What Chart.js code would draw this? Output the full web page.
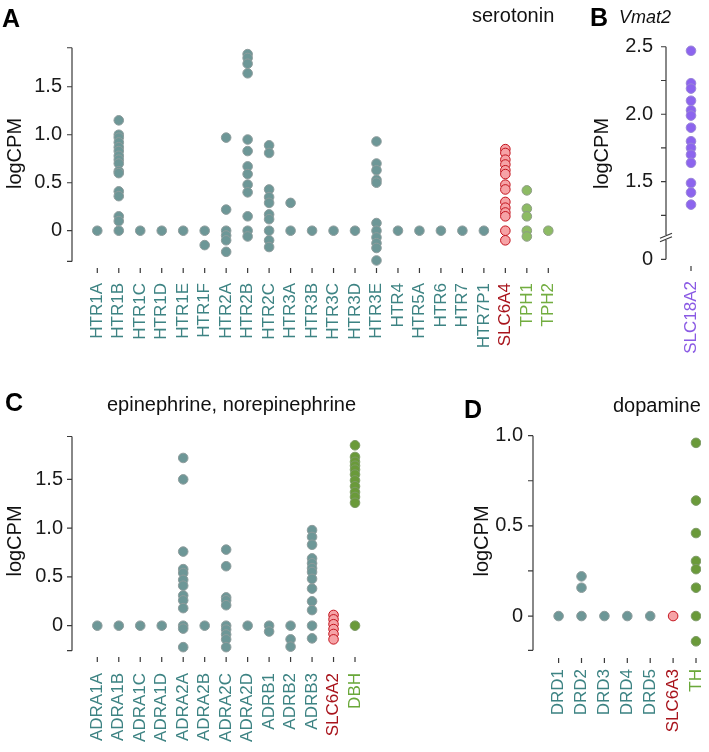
<!DOCTYPE html>
<html>
<head>
<meta charset="utf-8">
<script src="https://cdn.jsdelivr.net/npm/chart.js@4.4.1/dist/chart.umd.min.js"></script>
<style>
  body { margin: 0; background: #fff; font-family: "Liberation Sans", Arial, Helvetica, sans-serif; }
  #fig { position: relative; width: 709px; height: 752px; overflow: hidden; }
  canvas { position: absolute; }
  .lbl { position: absolute; font-weight: bold; font-size: 25px; line-height: 25px; color: #000; }
  .ttl { position: absolute; font-size: 20px; line-height: 20px; color: #111; white-space: nowrap; }
</style>
</head>
<body>
<div id="fig">
  <canvas id="chartA" width="585" height="380" style="left:0;top:0"></canvas>
  <canvas id="chartB" width="119" height="380" style="left:590px;top:0"></canvas>
  <canvas id="chartC" width="460" height="372" style="left:0;top:380px"></canvas>
  <canvas id="chartD" width="239" height="372" style="left:470px;top:380px"></canvas>

  <div class="lbl" style="left:2px;top:6px">A</div>
  <div class="ttl" style="left:472px;top:5px">serotonin</div>
  <div class="lbl" style="left:590px;top:5px">B</div>
  <div class="ttl" style="left:619px;top:8px;font-size:18px;line-height:18px;font-style:italic">Vmat2</div>
  <div class="lbl" style="left:5px;top:390px">C</div>
  <div class="ttl" style="left:107px;top:394px">epinephrine, norepinephrine</div>
  <div class="lbl" style="left:464px;top:397px">D</div>
  <div class="ttl" style="left:613px;top:395px">dopamine</div>
</div>

<script>
// ---- data (logCPM per cell) ----
var serotoninGenes = ['HTR1A', 'HTR1B', 'HTR1C', 'HTR1D', 'HTR1E', 'HTR1F', 'HTR2A', 'HTR2B', 'HTR2C',
    'HTR3A', 'HTR3B', 'HTR3C', 'HTR3D', 'HTR3E', 'HTR4', 'HTR5A', 'HTR6', 'HTR7', 'HTR7P1',
    'SLC6A4', 'TPH1', 'TPH2'];
var serotoninGroups = ['receptor', 'receptor', 'receptor', 'receptor', 'receptor', 'receptor', 'receptor',
    'receptor', 'receptor', 'receptor', 'receptor', 'receptor', 'receptor', 'receptor', 'receptor',
    'receptor', 'receptor', 'receptor', 'receptor', 'transporter', 'synthLight', 'synthLight'];
var serotoninValues = [
    [0],
    [1.15, 1.0, 0.97, 0.92, 0.87, 0.83, 0.78, 0.74, 0.7, 0.62, 0.6, 0.41, 0.36, 0.15, 0.1, 0],
    [0], [0], [0],
    [0, -0.15],
    [0.97, 0.22, 0, -0.05, -0.1, -0.22],
    [1.84, 1.8, 1.74, 1.64, 0.95, 0.83, 0.67, 0.59, 0.48, 0.4, 0.15, 0, -0.06],
    [0.89, 0.81, 0.43, 0.35, 0.29, 0.17, 0.12, 0, -0.1, -0.17],
    [0.29, 0],
    [0], [0], [0],
    [0.93, 0.7, 0.63, 0.53, 0.5, 0.08, 0, -0.07, -0.13, -0.18, -0.31],
    [0], [0], [0], [0], [0],
    [0.85, 0.81, 0.74, 0.69, 0.63, 0.59, 0.48, 0.43, 0.3, 0.24, 0.19, 0.15, 0, -0.1],
    [0.42, 0.23, 0.15, 0, -0.06],
    [0]
];
var serotoninTicks = [0, 0.5, 1.0, 1.5];
var serotoninTickLabels = ['0', '0.5', '1.0', '1.5'];

var vmatGenes = ['SLC18A2'];
var vmatGroups = ['vmat'];
var vmatValues = [
    [2.47, 2.23, 2.19, 2.1, 2.03, 1.99, 1.9, 1.8, 1.75, 1.7, 1.64, 1.49, 1.42, 1.33]
];
var vmatTicks = [0, 1.5, 2.0, 2.5];
var vmatTickLabels = ['0', '1.5', '2.0', '2.5'];
var vmatMinorTicks = [1.25, 1.75, 2.25];

var adrenGenes = ['ADRA1A', 'ADRA1B', 'ADRA1C', 'ADRA1D', 'ADRA2A', 'ADRA2B', 'ADRA2C', 'ADRA2D',
    'ADRB1', 'ADRB2', 'ADRB3', 'SLC6A2', 'DBH'];
var adrenGroups = ['receptor', 'receptor', 'receptor', 'receptor', 'receptor', 'receptor', 'receptor',
    'receptor', 'receptor', 'receptor', 'receptor', 'transporter', 'synthDark'];
var adrenValues = [
    [0], [0], [0], [0],
    [1.72, 1.5, 0.76, 0.58, 0.54, 0.47, 0.41, 0.31, 0.26, 0.18, 0, -0.03, -0.22],
    [0],
    [0.78, 0.61, 0.29, 0.26, 0.21, 0, -0.04, -0.09, -0.14, -0.22],
    [0],
    [0, -0.06],
    [0, -0.14, -0.215],
    [0.98, 0.91, 0.83, 0.69, 0.64, 0.59, 0.55, 0.48, 0.38, 0.25, 0.16, 0, -0.13],
    [0.11, 0.065, 0.015, -0.035, -0.085, -0.14],
    [1.85, 1.73, 1.68, 1.64, 1.6, 1.55, 1.49, 1.43, 1.37, 1.32, 1.26, 0]
];
var adrenTicks = [0, 0.5, 1.0, 1.5];
var adrenTickLabels = ['0', '0.5', '1.0', '1.5'];

var dopaGenes = ['DRD1', 'DRD2', 'DRD3', 'DRD4', 'DRD5', 'SLC6A3', 'TH'];
var dopaGroups = ['receptor', 'receptor', 'receptor', 'receptor', 'receptor', 'transporter', 'synthDark'];
var dopaValues = [
    [0],
    [0.22, 0.157, 0],
    [0], [0], [0],
    [0],
    [0.96, 0.64, 0.46, 0.305, 0.26, 0.157, 0, -0.14]
];
var dopaTicks = [0, 0.5, 1.0];
var dopaTickLabels = ['0', '0.5', '1.0'];
var dopaMinorTicks = [0.25, 0.75];

// ---- styling ----
var AXIS_COLOR = '#3a3a3a';
Chart.defaults.font.family = '"Liberation Sans", Arial, Helvetica, sans-serif';
Chart.defaults.color = '#1a1a1a';

var groupStyle = {
    receptor:    {fill: '#6d9797', border: '#8e9c9c', label: '#3d8383'},
    transporter: {fill: '#f6a3a6', border: '#c3141e', label: '#a8141c'},
    synthLight:  {fill: '#8dbb64', border: '#8e9d86', label: '#72ad40'},
    synthDark:   {fill: '#6a9a3a', border: '#7d9a66', label: '#6aa83a'},
    vmat:        {fill: '#8c64ee', border: '#9a86d6', label: '#8a5ae4'}
};

// y axis line with caps (and a break for panel B), plus the tick dashes on both axes
var axisLine = {
    id: 'axisLine',
    beforeDatasetsDraw: function (chart, args, opts) {
        var y = chart.scales.y, x = chart.scales.x, x0 = y.right, ctx = chart.ctx;
        ctx.save();
        ctx.strokeStyle = AXIS_COLOR;
        ctx.lineWidth = 1.2;
        ctx.beginPath();
        opts.segments.forEach(function (s) {
            ctx.moveTo(x0, y.getPixelForValue(s[0]));
            ctx.lineTo(x0, y.getPixelForValue(s[1]));
        });
        opts.caps.concat(y.ticks.map(function (t) { return t.value; })).forEach(function (v) {
            var p = y.getPixelForValue(v);
            ctx.moveTo(x0 - 5, p);
            ctx.lineTo(x0, p);
        });
        if (opts.breakAt) {
            var mid = (y.getPixelForValue(opts.breakAt[0]) + y.getPixelForValue(opts.breakAt[1])) / 2;
            [-1.7, 1.7].forEach(function (d) {
                ctx.moveTo(x0 - 6, mid + d + 2.5);
                ctx.lineTo(x0 + 6, mid + d - 2.5);
            });
        }
        x.ticks.forEach(function (t) {
            var px = x.getPixelForValue(t.value);
            ctx.moveTo(px, x.top + opts.xTickGap);
            ctx.lineTo(px, x.top + opts.xTickGap + 5);
        });
        ctx.stroke();
        ctx.restore();
    }
};

function buildDatasets(groups, values) {
    var order = [];
    groups.forEach(function (g) { if (order.indexOf(g) < 0) order.push(g); });
    return order.map(function (g) {
        var pts = [];
        values.forEach(function (vals, i) {
            if (groups[i] !== g) return;
            vals.forEach(function (v) { pts.push({x: i, y: v}); });
        });
        var st = groupStyle[g];
        return {
            data: pts,
            showLine: false,
            pointRadius: 4.8,
            pointBackgroundColor: st.fill,
            pointBorderColor: st.border,
            pointBorderWidth: 1
        };
    });
}

function makePanel(p) {
    var tickPos = p.tickPos.concat(p.minor || []);
    return new Chart(document.getElementById(p.id), {
        type: 'line',
        data: {datasets: buildDatasets(p.groups, p.values)},
        options: {
            responsive: false,
            animation: false,
            events: [],
            layout: {padding: {top: p.padTop, right: p.padRight, left: 0, bottom: 0}},
            plugins: {
                legend: {display: false},
                tooltip: {enabled: false},
                axisLine: p.axis
            },
            scales: {
                x: {
                    type: 'linear',
                    min: p.xMin, max: p.xMax,
                    border: {display: false},
                    grid: {display: false, drawTicks: false},
                    afterBuildTicks: function (s) {
                        s.ticks = p.genes.map(function (g, i) { return {value: i}; });
                    },
                    afterFit: function (s) {
                        s.height = p.xHeight;
                        s.paddingLeft = 0;
                        s.paddingRight = 0;
                    },
                    ticks: {
                        autoSkip: false, maxRotation: 90, minRotation: 90, padding: p.xLabelPad,
                        font: {size: 17},
                        color: function (c) { return groupStyle[p.groups[c.index]].label; },
                        callback: function (v) { return p.genes[v]; }
                    }
                },
                y: {
                    min: p.yMin, max: p.yMax,
                    border: {display: false},
                    grid: {display: false, drawTicks: false},
                    afterBuildTicks: function (s) {
                        s.ticks = tickPos.map(function (v) { return {value: v}; });
                    },
                    afterFit: function (s) { s.width = p.yWidth; },
                    ticks: {
                        padding: p.tickPad, font: {size: 20}, color: '#1a1a1a',
                        callback: function (v) {
                            var i = p.tickPos.indexOf(v);
                            return i < 0 ? '' : p.tickLabels[i];
                        }
                    },
                    title: {
                        display: true, text: 'logCPM', font: {size: 20}, color: '#111',
                        padding: {top: p.titlePad, bottom: 0}
                    }
                }
            }
        },
        plugins: [axisLine]
    });
}

// position where the broken axis of panel B shows "0"
var VMAT_ZERO_POS = 0.925;

makePanel({
    id: 'chartA', genes: serotoninGenes, groups: serotoninGroups, values: serotoninValues,
    tickPos: serotoninTicks, tickLabels: serotoninTickLabels,
    xMin: -1.178, xMax: 22.15, yMin: -0.378, yMax: 1.987,
    yWidth: 72, xHeight: 113, padTop: 40, padRight: 12, tickPad: 10, titlePad: 3, xLabelPad: 16,
    axis: {segments: [[-0.32, 1.906]], caps: [-0.32, 1.906], xTickGap: 1}
});

makePanel({
    id: 'chartB', genes: vmatGenes, groups: vmatGroups, values: vmatValues,
    tickPos: vmatTicks.map(function (v) { return v === 0 ? VMAT_ZERO_POS : v; }),
    tickLabels: vmatTickLabels, minor: vmatMinorTicks,
    xMin: -1, xMax: 0.32, yMin: 0.868, yMax: 2.55,
    yWidth: 76, xHeight: 113, padTop: 40, padRight: 10, tickPad: 13, titlePad: 0, xLabelPad: 14,
    axis: {segments: [[2.5, 1.105], [1.068, VMAT_ZERO_POS]], caps: [], breakAt: [1.105, 1.068], xTickGap: -1}
});

makePanel({
    id: 'chartC', genes: adrenGenes, groups: adrenGroups, values: adrenValues,
    tickPos: adrenTicks, tickLabels: adrenTickLabels,
    xMin: -1.178, xMax: 16.33, yMin: -0.321, yMax: 2.058,
    yWidth: 72, xHeight: 95, padTop: 45, padRight: 12, tickPad: 9, titlePad: 3, xLabelPad: 16,
    axis: {segments: [[-0.256, 1.94]], caps: [-0.256, 1.94], xTickGap: 0}
});

makePanel({
    id: 'chartD', genes: dopaGenes, groups: dopaGroups, values: dopaValues,
    tickPos: dopaTicks, tickLabels: dopaTickLabels, minor: dopaMinorTicks,
    xMin: -1.118, xMax: 6.218, yMin: -0.227, yMax: 1.059,
    yWidth: 63, xHeight: 95, padTop: 45, padRight: 8, tickPad: 10, titlePad: 0, xLabelPad: 12,
    axis: {segments: [[-0.19, 1.0]], caps: [-0.19], xTickGap: 1}
});
</script>
</body>
</html>
